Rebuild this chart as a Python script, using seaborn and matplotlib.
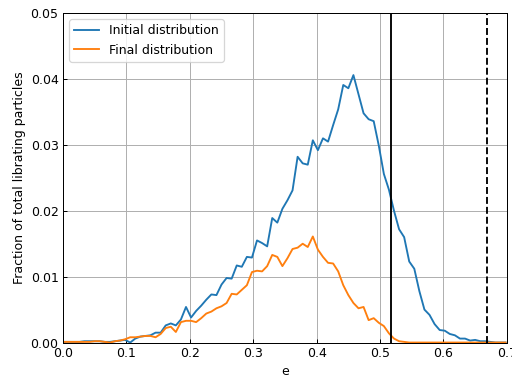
import numpy as np
import pandas as pd
import matplotlib
matplotlib.use("Agg")
import matplotlib.pyplot as plt
import seaborn as sns

# Eccentricity bin centres
e_values = np.round(0.002 + 0.008 * np.arange(88), 3)

# Fraction of librating particles per eccentricity bin
initial_frac = [
    0.0001, 0.0001, 0.0001, 0.0001, 0.0002, 0.0002, 0.0002, 0.0002, 0.0001, 0.0001,
    0.0002, 0.0003, 0.0004, 0.0000, 0.0006, 0.0009, 0.0010, 0.0011, 0.0015, 0.0015,
    0.0026, 0.0029, 0.0026, 0.0035, 0.0054, 0.0038, 0.0048, 0.0056, 0.0065, 0.0073,
    0.0072, 0.0088, 0.0098, 0.0097, 0.0117, 0.0115, 0.0130, 0.0129, 0.0155, 0.0151,
    0.0146, 0.0189, 0.0182, 0.0203, 0.0216, 0.0231, 0.0282, 0.0272, 0.0270, 0.0307,
    0.0292, 0.0310, 0.0305, 0.0330, 0.0354, 0.0391, 0.0386, 0.0406, 0.0377, 0.0348,
    0.0339, 0.0336, 0.0299, 0.0256, 0.0232, 0.0200, 0.0172, 0.0160, 0.0123, 0.0112,
    0.0078, 0.0050, 0.0042, 0.0028, 0.0019, 0.0018, 0.0013, 0.0011, 0.0006, 0.0006,
    0.0003, 0.0004, 0.0002, 0.0002, 0.0001, 0.0000, 0.0000, 0.0000,
]
final_frac = [
    0.0001, 0.0001, 0.0001, 0.0001, 0.0001, 0.0001, 0.0002, 0.0002, 0.0001, 0.0000,
    0.0002, 0.0003, 0.0005, 0.0008, 0.0008, 0.0009, 0.0010, 0.0010, 0.0008, 0.0013,
    0.0022, 0.0024, 0.0016, 0.0031, 0.0033, 0.0033, 0.0031, 0.0037, 0.0044, 0.0047,
    0.0052, 0.0055, 0.0060, 0.0074, 0.0073, 0.0080, 0.0087, 0.0107, 0.0109, 0.0108,
    0.0116, 0.0133, 0.0130, 0.0116, 0.0128, 0.0142, 0.0144, 0.0150, 0.0145, 0.0161,
    0.0141, 0.0130, 0.0121, 0.0120, 0.0108, 0.0087, 0.0072, 0.0060, 0.0052, 0.0054,
    0.0034, 0.0037, 0.0030, 0.0025, 0.0014, 0.0006, 0.0002, 0.0001, 0.0000, 0.0000,
    0.0000, 0.0000, 0.0000, 0.0000, 0.0000, 0.0000, 0.0000, 0.0000, 0.0000, 0.0000,
    0.0000, 0.0000, 0.0000, 0.0000, 0.0000, 0.0000, 0.0000, 0.0000,
]
series_names = ["Initial distribution", "Final distribution"]

# Reference eccentricities marked by vertical lines
e_solid = 0.518
e_dashed = 0.668

df = pd.DataFrame({
    "e": np.concatenate([e_values, e_values]),
    "frac": np.concatenate([initial_frac, final_frac]),
    "dist": [series_names[0]] * len(e_values) + [series_names[1]] * len(e_values),
})

plt.rcParams["xtick.direction"] = "in"
plt.rcParams["ytick.direction"] = "in"

DPI = 90
fig = plt.figure(figsize=(512 / DPI, 376 / DPI), dpi=DPI)
ax = fig.add_axes([0.123, 0.089, 0.867, 0.876])

sns.lineplot(data=df, x="e", y="frac", hue="dist", hue_order=series_names,
             palette=["#1f77b4", "#ff7f0e"], linewidth=1.5, ax=ax)

ax.axvline(e_solid, color="black", linewidth=1.5)
ax.axvline(e_dashed, color="black", linewidth=1.5, linestyle="--")

ax.set_xlim(0, 0.7)
ax.set_ylim(0, 0.05)
ax.set_xticks(np.arange(0, 0.71, 0.1))
ax.set_yticks(np.arange(0, 0.051, 0.01))
ax.grid(True, color="#b0b0b0", linewidth=0.8)
ax.set_axisbelow(True)
ax.set_xlabel("e")
ax.set_ylabel("Fraction of total librating particles")

leg = ax.legend(loc="upper left", title=None)

fig.savefig("out.png", dpi=DPI)
